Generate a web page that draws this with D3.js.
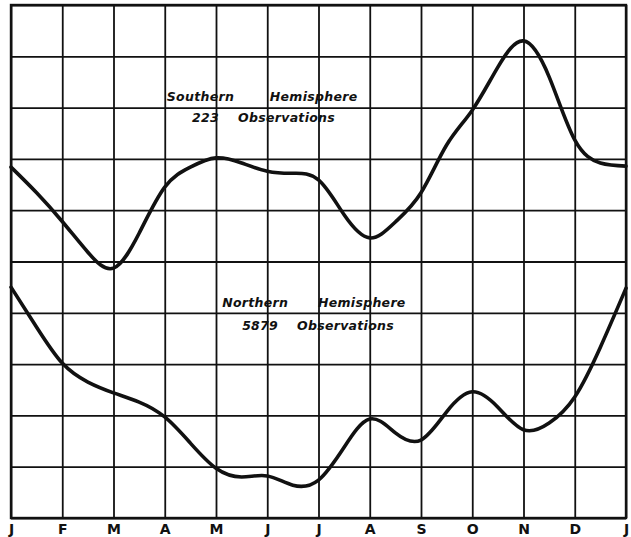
<!DOCTYPE html>
<html>
<head>
<meta charset="utf-8">
<script src="https://cdn.jsdelivr.net/npm/d3@7"></script>
<style>
  body { margin: 0; background: #fff; }
  .grid line, .grid path { stroke: #111; stroke-width: 1.8px; }
  .months text { font-family: "DejaVu Sans", sans-serif; font-weight: bold; font-size: 14px; fill: #111; }
  .note { font-family: "DejaVu Sans", sans-serif; font-weight: bold; font-style: italic; font-size: 12.5px; letter-spacing: 0.3px; fill: #111; }
  .curve { fill: none; stroke: #111; stroke-width: 3.6px; stroke-linejoin: round; stroke-linecap: round; }
</style>
</head>
<body>
<script>
//month labels along the bottom, one per grid line
var months = ["J", "F", "M", "A", "M", "J", "J", "A", "S", "O", "N", "D", "J"];

//positions in months (half month steps)
var monthSteps = [0, 0.5, 1, 1.5, 2, 2.5, 3, 3.5, 4, 4.5, 5, 5.5, 6,
                  6.5, 7, 7.5, 8, 8.5, 9, 9.5, 10, 10.5, 11, 11.5, 12];

//values in grid units (0 = bottom line, 10 = top line)
var southern = [6.84, 6.34, 5.78, 5.18, 4.87, 5.55, 6.45, 6.84, 7.02, 6.92, 6.76, 6.72, 6.59,
                5.91, 5.46, 5.77, 6.34, 7.27, 7.95, 8.79, 9.30, 8.60, 7.37, 6.92, 6.86];
var northern = [4.50, 3.72, 3.02, 2.65, 2.44, 2.26, 1.97, 1.46, 0.97, 0.80, 0.82, 0.64, 0.74,
                1.38, 1.93, 1.66, 1.52, 2.07, 2.46, 2.16, 1.72, 1.85, 2.36, 3.33, 4.48];

//labels written on the chart
var southernNote = ["Southern", "Hemisphere", "223", "Observations"];
var northernNote = ["Northern", "Hemisphere", "5879", "Observations"];

(function(){

var width = 631,
    height = 537;

var svg = d3.select("body")
    .append("svg")
    .attr("width", width)
    .attr("height", height);

//scales
var x = d3.scaleLinear().domain([0, 12]).range([11, 626]);
var y = d3.scaleLinear().domain([0, 10]).range([518, 5]);

//vertical grid + month labels
var xAxis = d3.axisBottom(x)
    .tickValues(d3.range(13))
    .tickSize(-(y(0) - y(10)))
    .tickPadding(6)
    .tickFormat(function(i){ return months[i]; });

svg.append("g")
    .attr("class", "grid months")
    .attr("transform", "translate(0," + y(0) + ")")
    .call(xAxis)
    .call(function(g){ g.select(".domain").remove(); });

//horizontal grid
var yAxis = d3.axisLeft(y)
    .tickValues(d3.range(11))
    .tickSize(-(x(12) - x(0)))
    .tickFormat("");

svg.append("g")
    .attr("class", "grid")
    .attr("transform", "translate(" + x(0) + ",0)")
    .call(yAxis)
    .call(function(g){ g.select(".domain").remove(); });

//outer frame
svg.append("rect")
    .attr("x", x(0))
    .attr("y", y(10))
    .attr("width", x(12) - x(0))
    .attr("height", y(0) - y(10))
    .attr("fill", "none")
    .attr("stroke", "#111")
    .attr("stroke-width", 2.4);

//curves
var line = d3.line()
    .x(function(d, i){ return x(monthSteps[i]); })
    .y(function(d){ return y(d); })
    .curve(d3.curveNatural);

svg.append("path")
    .datum(southern)
    .attr("class", "curve")
    .attr("d", line);

svg.append("path")
    .datum(northern)
    .attr("class", "curve")
    .attr("d", line);

//notes
function addNote(words, x1, x2, x3, x4, yTop, yBottom){
    var spots = [[x1, yTop], [x2, yTop], [x3, yBottom], [x4, yBottom]];
    words.forEach(function(w, i){
        svg.append("text")
            .attr("class", "note")
            .attr("x", x(spots[i][0]))
            .attr("y", y(spots[i][1]))
            .text(w);
    });
}
addNote(southernNote, 3.04, 5.05, 3.53, 4.43, 8.13, 7.72);
addNote(northernNote, 4.12, 5.99, 4.51, 5.58, 4.11, 3.66);

})();
</script>
</body>
</html>
